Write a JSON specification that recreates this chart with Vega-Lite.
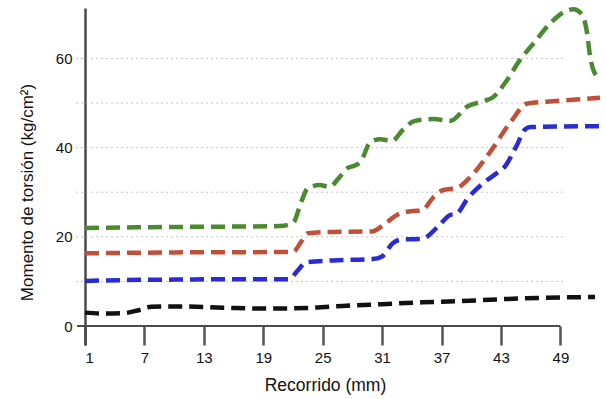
{
  "$schema": "https://vega.github.io/schema/vega-lite/v6.json",
  "width": 515,
  "height": 337,
  "autosize": {"type": "none"},
  "padding": {"left": 85, "top": 8, "right": 6, "bottom": 54},
  "background": "white",
  "config": {
    "view": {"stroke": null},
    "font": "Liberation Sans",
    "axis": {"labelFont": "Liberation Sans", "titleFont": "Liberation Sans", "labelColor": "#111", "titleColor": "#111", "titleFontWeight": "normal"}
  },
  "datasets": {
    "curvas": [
      {"serie": "A", "recorrido": 1, "momento": 3.0},
      {"serie": "A", "recorrido": 3, "momento": 2.8},
      {"serie": "A", "recorrido": 5, "momento": 2.9},
      {"serie": "A", "recorrido": 6.5, "momento": 3.6},
      {"serie": "A", "recorrido": 7.7, "momento": 4.3},
      {"serie": "A", "recorrido": 10, "momento": 4.4},
      {"serie": "A", "recorrido": 15, "momento": 4.1},
      {"serie": "A", "recorrido": 20, "momento": 3.9},
      {"serie": "A", "recorrido": 24, "momento": 4.1},
      {"serie": "A", "recorrido": 27, "momento": 4.5},
      {"serie": "A", "recorrido": 31, "momento": 4.9},
      {"serie": "A", "recorrido": 35, "momento": 5.3},
      {"serie": "A", "recorrido": 39, "momento": 5.6},
      {"serie": "A", "recorrido": 43, "momento": 6.0},
      {"serie": "A", "recorrido": 47, "momento": 6.3},
      {"serie": "A", "recorrido": 52.5, "momento": 6.5},

      {"serie": "B", "recorrido": 1, "momento": 10.1},
      {"serie": "B", "recorrido": 5, "momento": 10.3},
      {"serie": "B", "recorrido": 10, "momento": 10.4},
      {"serie": "B", "recorrido": 15, "momento": 10.5},
      {"serie": "B", "recorrido": 21.6, "momento": 10.5},
      {"serie": "B", "recorrido": 22.5, "momento": 12.5},
      {"serie": "B", "recorrido": 23.3, "momento": 14.3},
      {"serie": "B", "recorrido": 26, "momento": 14.7},
      {"serie": "B", "recorrido": 30, "momento": 15.0},
      {"serie": "B", "recorrido": 31, "momento": 15.6},
      {"serie": "B", "recorrido": 32.1, "momento": 18.6},
      {"serie": "B", "recorrido": 33, "momento": 19.4},
      {"serie": "B", "recorrido": 35, "momento": 19.5},
      {"serie": "B", "recorrido": 36.6, "momento": 22.2},
      {"serie": "B", "recorrido": 37.8, "momento": 24.8},
      {"serie": "B", "recorrido": 38.6, "momento": 25.3},
      {"serie": "B", "recorrido": 39.6, "momento": 28.5},
      {"serie": "B", "recorrido": 41.2, "momento": 32.0},
      {"serie": "B", "recorrido": 42.6, "momento": 34.3},
      {"serie": "B", "recorrido": 43.3, "momento": 35.5},
      {"serie": "B", "recorrido": 44.6, "momento": 40.5},
      {"serie": "B", "recorrido": 45.4, "momento": 44.0},
      {"serie": "B", "recorrido": 46, "momento": 44.6},
      {"serie": "B", "recorrido": 53, "momento": 44.8},

      {"serie": "C", "recorrido": 1, "momento": 16.3},
      {"serie": "C", "recorrido": 10, "momento": 16.5},
      {"serie": "C", "recorrido": 22, "momento": 16.6},
      {"serie": "C", "recorrido": 22.8, "momento": 18.8},
      {"serie": "C", "recorrido": 23.5, "momento": 20.8},
      {"serie": "C", "recorrido": 26, "momento": 21.1},
      {"serie": "C", "recorrido": 30, "momento": 21.2},
      {"serie": "C", "recorrido": 31, "momento": 22.4},
      {"serie": "C", "recorrido": 32.5, "momento": 24.9},
      {"serie": "C", "recorrido": 34.1, "momento": 25.8},
      {"serie": "C", "recorrido": 35, "momento": 25.9},
      {"serie": "C", "recorrido": 36.2, "momento": 28.9},
      {"serie": "C", "recorrido": 37.2, "momento": 30.5},
      {"serie": "C", "recorrido": 38.5, "momento": 30.9},
      {"serie": "C", "recorrido": 39.9, "momento": 33.4},
      {"serie": "C", "recorrido": 41.9, "momento": 39.0},
      {"serie": "C", "recorrido": 43.9, "momento": 45.5},
      {"serie": "C", "recorrido": 45.7, "momento": 49.9},
      {"serie": "C", "recorrido": 49, "momento": 50.5},
      {"serie": "C", "recorrido": 53, "momento": 51.2},

      {"serie": "D", "recorrido": 1, "momento": 22.0},
      {"serie": "D", "recorrido": 10, "momento": 22.2},
      {"serie": "D", "recorrido": 20.7, "momento": 22.4},
      {"serie": "D", "recorrido": 22.0, "momento": 23.1},
      {"serie": "D", "recorrido": 22.9, "momento": 28.2},
      {"serie": "D", "recorrido": 23.5, "momento": 30.9},
      {"serie": "D", "recorrido": 24.7, "momento": 31.6},
      {"serie": "D", "recorrido": 25.7, "momento": 31.2},
      {"serie": "D", "recorrido": 26.6, "momento": 33.1},
      {"serie": "D", "recorrido": 27.5, "momento": 35.4},
      {"serie": "D", "recorrido": 28.0, "momento": 35.8},
      {"serie": "D", "recorrido": 28.8, "momento": 36.7},
      {"serie": "D", "recorrido": 29.8, "momento": 41.2},
      {"serie": "D", "recorrido": 30.8, "momento": 41.9},
      {"serie": "D", "recorrido": 32.0, "momento": 41.5},
      {"serie": "D", "recorrido": 33.1, "momento": 44.0},
      {"serie": "D", "recorrido": 34.3, "momento": 46.0},
      {"serie": "D", "recorrido": 36.2, "momento": 46.4},
      {"serie": "D", "recorrido": 37.9, "momento": 46.0},
      {"serie": "D", "recorrido": 39.6, "momento": 49.2},
      {"serie": "D", "recorrido": 41.2, "momento": 50.4},
      {"serie": "D", "recorrido": 42.2, "momento": 51.3},
      {"serie": "D", "recorrido": 43.6, "momento": 55.1},
      {"serie": "D", "recorrido": 44.9, "momento": 59.6},
      {"serie": "D", "recorrido": 46.3, "momento": 63.4},
      {"serie": "D", "recorrido": 48.0, "momento": 67.9},
      {"serie": "D", "recorrido": 49.3, "momento": 70.3},
      {"serie": "D", "recorrido": 50.3, "momento": 71.0},
      {"serie": "D", "recorrido": 51.2, "momento": 69.8},
      {"serie": "D", "recorrido": 51.7, "momento": 65.6},
      {"serie": "D", "recorrido": 52.0, "momento": 60.5},
      {"serie": "D", "recorrido": 52.4, "momento": 57.0},
      {"serie": "D", "recorrido": 53.0, "momento": 55.5}
    ],
    "rejilla": [
      {"desde": 0.1, "hasta": 49.6, "nivel": 10},
      {"desde": 0.1, "hasta": 49.6, "nivel": 20},
      {"desde": 0.1, "hasta": 49.6, "nivel": 30},
      {"desde": 0.1, "hasta": 49.6, "nivel": 40},
      {"desde": 0.1, "hasta": 49.6, "nivel": 50},
      {"desde": 0.1, "hasta": 49.6, "nivel": 60}
    ],
    "ejeX": [
      {"desde": 0.2, "hasta": 49, "nivel": 0}
    ]
  },
  "layer": [
    {
      "data": {"name": "rejilla"},
      "mark": {"type": "rule", "color": "#c4c4c4", "strokeWidth": 1, "strokeDash": [2, 3]},
      "encoding": {
        "x": {"field": "desde", "type": "quantitative", "scale": {"domain": [1, 53], "nice": false, "zero": false}},
        "x2": {"field": "hasta"},
        "y": {"field": "nivel", "type": "quantitative", "scale": {"domain": [-4.26, 71.3], "nice": false, "zero": false}}
      }
    },
    {
      "data": {"name": "ejeX"},
      "mark": {"type": "rule", "color": "#4a4a4a", "strokeWidth": 2},
      "encoding": {
        "x": {"field": "desde", "type": "quantitative"},
        "x2": {"field": "hasta"},
        "y": {"field": "nivel", "type": "quantitative"}
      }
    },
    {
      "data": {"name": "curvas"},
      "mark": {"type": "line", "interpolate": "monotone", "strokeWidth": 4.5, "strokeDash": [14, 7]},
      "encoding": {
        "x": {
          "field": "recorrido", "type": "quantitative",
          "title": "Recorrido (mm)",
          "axis": {
            "values": [1, 7, 13, 19, 25, 31, 37, 43, 49],
            "domain": false, "grid": false,
            "tickSize": -19, "tickWidth": 2.5, "tickColor": "#555",
            "labelPadding": 24, "labelFontSize": 15, "labelAngle": 0,
            "titleFontSize": 17.5, "titleX": 240, "titleY": 40, "titleBaseline": "middle"
          }
        },
        "y": {
          "field": "momento", "type": "quantitative",
          "title": "Momento de torsión (kg/cm²)",
          "axis": {
            "values": [0, 20, 40, 60],
            "domain": true, "domainColor": "#4a4a4a", "domainWidth": 2.5,
            "ticks": false, "grid": false,
            "labelPadding": 13, "labelFontSize": 15,
            "titleFontSize": 17, "titleX": -58, "titleY": 184, "titleBaseline": "middle"
          }
        },
        "color": {
          "field": "serie", "type": "nominal", "legend": null,
          "scale": {"domain": ["A", "B", "C", "D"], "range": ["#111111", "#2b2bd6", "#c0503a", "#4c8a32"]}
        }
      }
    }
  ]
}
